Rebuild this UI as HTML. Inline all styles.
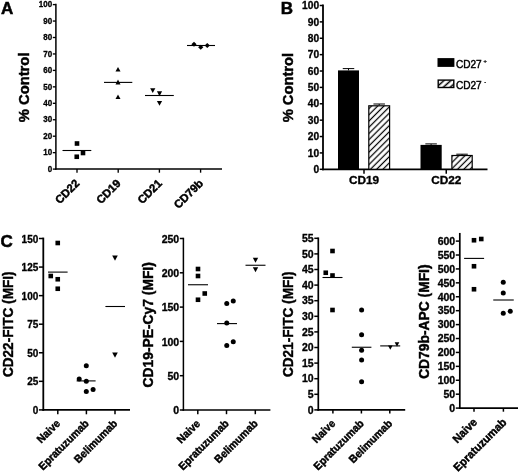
<!DOCTYPE html>
<html><head><meta charset="utf-8"><title>Figure</title>
<style>
html,body{margin:0;padding:0;background:#fff;}
svg{display:block;}
svg text{font-family:"Liberation Sans", Arial, sans-serif;fill:#000;}
</style></head>
<body>
<svg width="520" height="472" viewBox="0 0 520 472">
<rect width="520" height="472" fill="#fff"/>
<line x1="55.90" y1="3.85" x2="55.90" y2="169.85" stroke="#000" stroke-width="1.5"/>
<line x1="52.80" y1="169.10" x2="55.90" y2="169.10" stroke="#000" stroke-width="1.35"/>
<text x="0.00" y="0.00" font-size="8.8" font-weight="bold" text-anchor="end" stroke="#000" stroke-width="0.31" transform="translate(52.20 171.77) rotate(0) scale(0.91 1)">0</text>
<line x1="52.80" y1="152.65" x2="55.90" y2="152.65" stroke="#000" stroke-width="1.35"/>
<text x="0.00" y="0.00" font-size="8.8" font-weight="bold" text-anchor="end" stroke="#000" stroke-width="0.31" transform="translate(52.20 155.32) rotate(0) scale(0.91 1)">10</text>
<line x1="52.80" y1="136.20" x2="55.90" y2="136.20" stroke="#000" stroke-width="1.35"/>
<text x="0.00" y="0.00" font-size="8.8" font-weight="bold" text-anchor="end" stroke="#000" stroke-width="0.31" transform="translate(52.20 138.87) rotate(0) scale(0.91 1)">20</text>
<line x1="52.80" y1="119.75" x2="55.90" y2="119.75" stroke="#000" stroke-width="1.35"/>
<text x="0.00" y="0.00" font-size="8.8" font-weight="bold" text-anchor="end" stroke="#000" stroke-width="0.31" transform="translate(52.20 122.42) rotate(0) scale(0.91 1)">30</text>
<line x1="52.80" y1="103.30" x2="55.90" y2="103.30" stroke="#000" stroke-width="1.35"/>
<text x="0.00" y="0.00" font-size="8.8" font-weight="bold" text-anchor="end" stroke="#000" stroke-width="0.31" transform="translate(52.20 105.97) rotate(0) scale(0.91 1)">40</text>
<line x1="52.80" y1="86.85" x2="55.90" y2="86.85" stroke="#000" stroke-width="1.35"/>
<text x="0.00" y="0.00" font-size="8.8" font-weight="bold" text-anchor="end" stroke="#000" stroke-width="0.31" transform="translate(52.20 89.52) rotate(0) scale(0.91 1)">50</text>
<line x1="52.80" y1="70.40" x2="55.90" y2="70.40" stroke="#000" stroke-width="1.35"/>
<text x="0.00" y="0.00" font-size="8.8" font-weight="bold" text-anchor="end" stroke="#000" stroke-width="0.31" transform="translate(52.20 73.07) rotate(0) scale(0.91 1)">60</text>
<line x1="52.80" y1="53.95" x2="55.90" y2="53.95" stroke="#000" stroke-width="1.35"/>
<text x="0.00" y="0.00" font-size="8.8" font-weight="bold" text-anchor="end" stroke="#000" stroke-width="0.31" transform="translate(52.20 56.62) rotate(0) scale(0.91 1)">70</text>
<line x1="52.80" y1="37.50" x2="55.90" y2="37.50" stroke="#000" stroke-width="1.35"/>
<text x="0.00" y="0.00" font-size="8.8" font-weight="bold" text-anchor="end" stroke="#000" stroke-width="0.31" transform="translate(52.20 40.17) rotate(0) scale(0.91 1)">80</text>
<line x1="52.80" y1="21.05" x2="55.90" y2="21.05" stroke="#000" stroke-width="1.35"/>
<text x="0.00" y="0.00" font-size="8.8" font-weight="bold" text-anchor="end" stroke="#000" stroke-width="0.31" transform="translate(52.20 23.72) rotate(0) scale(0.91 1)">90</text>
<line x1="52.80" y1="4.60" x2="55.90" y2="4.60" stroke="#000" stroke-width="1.35"/>
<text x="0.00" y="0.00" font-size="8.8" font-weight="bold" text-anchor="end" stroke="#000" stroke-width="0.31" transform="translate(52.20 7.27) rotate(0) scale(0.91 1)">100</text>
<line x1="55.15" y1="169.10" x2="222.00" y2="169.10" stroke="#000" stroke-width="1.5"/>
<line x1="77.00" y1="169.10" x2="77.00" y2="172.70" stroke="#000" stroke-width="1.35"/>
<line x1="118.20" y1="169.10" x2="118.20" y2="172.70" stroke="#000" stroke-width="1.35"/>
<line x1="159.40" y1="169.10" x2="159.40" y2="172.70" stroke="#000" stroke-width="1.35"/>
<line x1="200.60" y1="169.10" x2="200.60" y2="172.70" stroke="#000" stroke-width="1.35"/>
<text x="0.90" y="14.10" font-size="17" font-weight="bold" text-anchor="start" stroke="#000" stroke-width="0.51">A</text>
<text x="29.20" y="87.40" font-size="15.2" font-weight="bold" text-anchor="middle" stroke="#000" stroke-width="0.46" transform="rotate(-90 29.20 87.40)" textLength="69.8" lengthAdjust="spacingAndGlyphs">% Control</text>
<text x="80.20" y="184.00" font-size="11.3" font-weight="bold" text-anchor="end" stroke="#000" stroke-width="0.45" transform="rotate(-45 80.20 184.00)">CD22</text>
<text x="121.40" y="184.00" font-size="11.3" font-weight="bold" text-anchor="end" stroke="#000" stroke-width="0.45" transform="rotate(-45 121.40 184.00)">CD19</text>
<text x="162.60" y="184.00" font-size="11.3" font-weight="bold" text-anchor="end" stroke="#000" stroke-width="0.45" transform="rotate(-45 162.60 184.00)">CD21</text>
<text x="203.80" y="184.00" font-size="11.3" font-weight="bold" text-anchor="end" stroke="#000" stroke-width="0.45" transform="rotate(-45 203.80 184.00)">CD79b</text>
<rect x="74.70" y="141.20" width="4.6" height="4.6" fill="#000"/>
<rect x="80.70" y="150.70" width="4.6" height="4.6" fill="#000"/>
<rect x="74.45" y="154.45" width="4.6" height="4.6" fill="#000"/>
<line x1="62.50" y1="150.50" x2="91.30" y2="150.50" stroke="#000" stroke-width="1.1"/>
<polygon points="115.50,71.62 120.50,71.62 118.00,66.88" fill="#000"/>
<polygon points="115.50,84.38 120.50,84.38 118.00,79.62" fill="#000"/>
<polygon points="115.50,99.12 120.50,99.12 118.00,94.38" fill="#000"/>
<line x1="104.00" y1="82.40" x2="132.30" y2="82.40" stroke="#000" stroke-width="1.1"/>
<polygon points="150.15,88.13 155.35,88.13 152.75,93.07" fill="#000"/>
<polygon points="156.90,91.33 162.10,91.33 159.50,96.27" fill="#000"/>
<polygon points="156.90,100.93 162.10,100.93 159.50,105.87" fill="#000"/>
<line x1="145.00" y1="95.50" x2="173.80" y2="95.50" stroke="#000" stroke-width="1.1"/>
<polygon points="191.40,44.25 194.00,41.65 196.60,44.25 194.00,46.85" fill="#000"/>
<polygon points="198.15,47.25 200.75,44.65 203.35,47.25 200.75,49.85" fill="#000"/>
<polygon points="204.65,45.50 207.25,42.90 209.85,45.50 207.25,48.10" fill="#000"/>
<line x1="187.00" y1="45.50" x2="215.00" y2="45.50" stroke="#000" stroke-width="1.1"/>
<line x1="323.00" y1="4.60" x2="323.00" y2="170.20" stroke="#000" stroke-width="1.8"/>
<line x1="319.70" y1="169.30" x2="323.00" y2="169.30" stroke="#000" stroke-width="1.5"/>
<text x="319.10" y="172.97" font-size="10.2" font-weight="bold" text-anchor="end" stroke="#000" stroke-width="0.31">0</text>
<line x1="319.70" y1="152.92" x2="323.00" y2="152.92" stroke="#000" stroke-width="1.5"/>
<text x="319.10" y="156.59" font-size="10.2" font-weight="bold" text-anchor="end" stroke="#000" stroke-width="0.31">10</text>
<line x1="319.70" y1="136.54" x2="323.00" y2="136.54" stroke="#000" stroke-width="1.5"/>
<text x="319.10" y="140.21" font-size="10.2" font-weight="bold" text-anchor="end" stroke="#000" stroke-width="0.31">20</text>
<line x1="319.70" y1="120.16" x2="323.00" y2="120.16" stroke="#000" stroke-width="1.5"/>
<text x="319.10" y="123.83" font-size="10.2" font-weight="bold" text-anchor="end" stroke="#000" stroke-width="0.31">30</text>
<line x1="319.70" y1="103.78" x2="323.00" y2="103.78" stroke="#000" stroke-width="1.5"/>
<text x="319.10" y="107.45" font-size="10.2" font-weight="bold" text-anchor="end" stroke="#000" stroke-width="0.31">40</text>
<line x1="319.70" y1="87.40" x2="323.00" y2="87.40" stroke="#000" stroke-width="1.5"/>
<text x="319.10" y="91.07" font-size="10.2" font-weight="bold" text-anchor="end" stroke="#000" stroke-width="0.31">50</text>
<line x1="319.70" y1="71.02" x2="323.00" y2="71.02" stroke="#000" stroke-width="1.5"/>
<text x="319.10" y="74.69" font-size="10.2" font-weight="bold" text-anchor="end" stroke="#000" stroke-width="0.31">60</text>
<line x1="319.70" y1="54.64" x2="323.00" y2="54.64" stroke="#000" stroke-width="1.5"/>
<text x="319.10" y="58.31" font-size="10.2" font-weight="bold" text-anchor="end" stroke="#000" stroke-width="0.31">70</text>
<line x1="319.70" y1="38.26" x2="323.00" y2="38.26" stroke="#000" stroke-width="1.5"/>
<text x="319.10" y="41.93" font-size="10.2" font-weight="bold" text-anchor="end" stroke="#000" stroke-width="0.31">80</text>
<line x1="319.70" y1="21.88" x2="323.00" y2="21.88" stroke="#000" stroke-width="1.5"/>
<text x="319.10" y="25.55" font-size="10.2" font-weight="bold" text-anchor="end" stroke="#000" stroke-width="0.31">90</text>
<line x1="319.70" y1="5.50" x2="323.00" y2="5.50" stroke="#000" stroke-width="1.5"/>
<text x="319.10" y="9.17" font-size="10.2" font-weight="bold" text-anchor="end" stroke="#000" stroke-width="0.31">100</text>
<line x1="322.10" y1="169.30" x2="487.50" y2="169.30" stroke="#000" stroke-width="1.8"/>
<line x1="364.00" y1="169.30" x2="364.00" y2="173.70" stroke="#000" stroke-width="1.5"/>
<line x1="446.25" y1="169.30" x2="446.25" y2="173.70" stroke="#000" stroke-width="1.5"/>
<text x="280.70" y="13.85" font-size="17" font-weight="bold" text-anchor="start" stroke="#000" stroke-width="0.51">B</text>
<text x="292.60" y="87.60" font-size="15.2" font-weight="bold" text-anchor="middle" stroke="#000" stroke-width="0.46" transform="rotate(-90 292.60 87.60)" textLength="69.4" lengthAdjust="spacingAndGlyphs">% Control</text>
<text x="364.00" y="183.90" font-size="11.8" font-weight="bold" text-anchor="middle" stroke="#000" stroke-width="0.35">CD19</text>
<text x="446.25" y="183.90" font-size="11.8" font-weight="bold" text-anchor="middle" stroke="#000" stroke-width="0.35">CD22</text>
<defs><pattern id="h" width="4.4" height="4.4" patternUnits="userSpaceOnUse" patternTransform="translate(1.5 0) rotate(-45)"><rect width="4.4" height="4.4" fill="#fff"/><line x1="0" y1="2.2" x2="4.4" y2="2.2" stroke="#000" stroke-width="1.25"/></pattern><pattern id="h2" width="4.6" height="4.6" patternUnits="userSpaceOnUse" patternTransform="translate(0.6 0) rotate(-42)"><rect width="4.6" height="4.6" fill="#fff"/><line x1="0" y1="2.3" x2="4.6" y2="2.3" stroke="#000" stroke-width="1.5"/></pattern></defs>
<line x1="348.50" y1="68.60" x2="348.50" y2="70.40" stroke="#000" stroke-width="1.0"/>
<line x1="342.75" y1="68.60" x2="354.25" y2="68.60" stroke="#000" stroke-width="1.0"/>
<rect x="338.00" y="70.40" width="21.00" height="98.90" fill="#000"/>
<line x1="379.20" y1="104.00" x2="379.20" y2="105.20" stroke="#000" stroke-width="1.0"/>
<line x1="373.45" y1="104.00" x2="384.95" y2="104.00" stroke="#000" stroke-width="1.0"/>
<rect x="368.80" y="105.80" width="20.80" height="63.50" fill="url(#h)" stroke="#000" stroke-width="1.2"/>
<line x1="431.10" y1="143.90" x2="431.10" y2="144.90" stroke="#000" stroke-width="1.0"/>
<line x1="425.35" y1="143.90" x2="436.85" y2="143.90" stroke="#000" stroke-width="1.0"/>
<rect x="420.50" y="144.90" width="21.20" height="24.40" fill="#000"/>
<line x1="462.05" y1="154.20" x2="462.05" y2="154.90" stroke="#000" stroke-width="1.0"/>
<line x1="456.30" y1="154.20" x2="467.80" y2="154.20" stroke="#000" stroke-width="1.0"/>
<rect x="451.90" y="155.50" width="20.30" height="13.80" fill="url(#h)" stroke="#000" stroke-width="1.2"/>
<rect x="437.5" y="58.1" width="16.9" height="8.8" fill="#000"/>
<rect x="438.2" y="80.1" width="15.6" height="7.4" fill="url(#h2)" stroke="#000" stroke-width="1.4"/>
<text x="455.90" y="67.50" font-size="10.1" font-weight="normal" text-anchor="start" stroke="#000" stroke-width="0.42" textLength="25.8" lengthAdjust="spacingAndGlyphs">CD27</text>
<text x="455.90" y="89.30" font-size="10.1" font-weight="normal" text-anchor="start" stroke="#000" stroke-width="0.42" textLength="25.8" lengthAdjust="spacingAndGlyphs">CD27</text>
<text x="483.50" y="62.80" font-size="5.6" font-weight="bold" text-anchor="start" stroke="#000" stroke-width="0.17">+</text>
<text x="484.30" y="84.20" font-size="5.6" font-weight="bold" text-anchor="start" stroke="#000" stroke-width="0.17">-</text>
<text x="0.40" y="246.90" font-size="17" font-weight="bold" text-anchor="start" stroke="#000" stroke-width="0.51">C</text>
<line x1="43.30" y1="237.60" x2="43.30" y2="410.80" stroke="#000" stroke-width="1.8"/>
<line x1="38.90" y1="409.90" x2="43.30" y2="409.90" stroke="#000" stroke-width="1.5"/>
<text x="38.30" y="414.00" font-size="10.0" font-weight="bold" text-anchor="end" stroke="#000" stroke-width="0.30">0</text>
<line x1="38.90" y1="381.33" x2="43.30" y2="381.33" stroke="#000" stroke-width="1.5"/>
<text x="38.30" y="385.43" font-size="10.0" font-weight="bold" text-anchor="end" stroke="#000" stroke-width="0.30">25</text>
<line x1="38.90" y1="352.77" x2="43.30" y2="352.77" stroke="#000" stroke-width="1.5"/>
<text x="38.30" y="356.87" font-size="10.0" font-weight="bold" text-anchor="end" stroke="#000" stroke-width="0.30">50</text>
<line x1="38.90" y1="324.20" x2="43.30" y2="324.20" stroke="#000" stroke-width="1.5"/>
<text x="38.30" y="328.30" font-size="10.0" font-weight="bold" text-anchor="end" stroke="#000" stroke-width="0.30">75</text>
<line x1="38.90" y1="295.63" x2="43.30" y2="295.63" stroke="#000" stroke-width="1.5"/>
<text x="38.30" y="299.73" font-size="10.0" font-weight="bold" text-anchor="end" stroke="#000" stroke-width="0.30">100</text>
<line x1="38.90" y1="267.07" x2="43.30" y2="267.07" stroke="#000" stroke-width="1.5"/>
<text x="38.30" y="271.17" font-size="10.0" font-weight="bold" text-anchor="end" stroke="#000" stroke-width="0.30">125</text>
<line x1="38.90" y1="238.50" x2="43.30" y2="238.50" stroke="#000" stroke-width="1.5"/>
<text x="38.30" y="242.60" font-size="10.0" font-weight="bold" text-anchor="end" stroke="#000" stroke-width="0.30">150</text>
<line x1="42.40" y1="409.90" x2="130.00" y2="409.90" stroke="#000" stroke-width="1.8"/>
<line x1="57.80" y1="409.90" x2="57.80" y2="414.30" stroke="#000" stroke-width="1.5"/>
<line x1="86.40" y1="409.90" x2="86.40" y2="414.30" stroke="#000" stroke-width="1.5"/>
<line x1="115.00" y1="409.90" x2="115.00" y2="414.30" stroke="#000" stroke-width="1.5"/>
<text x="12.80" y="324.25" font-size="13.9" font-weight="bold" text-anchor="middle" stroke="#000" stroke-width="0.42" transform="rotate(-90 12.80 324.25)" textLength="105.6" lengthAdjust="spacingAndGlyphs">CD22-FITC (MFI)</text>
<text x="0.00" y="0.00" font-size="11.0" font-weight="bold" text-anchor="end" stroke="#000" stroke-width="0.44" transform="translate(60.90 424.20) rotate(-45) scale(0.945 1)">Naive</text>
<text x="0.00" y="0.00" font-size="11.0" font-weight="bold" text-anchor="end" stroke="#000" stroke-width="0.44" transform="translate(89.50 424.20) rotate(-45) scale(0.945 1)">Epratuzumab</text>
<text x="0.00" y="0.00" font-size="11.0" font-weight="bold" text-anchor="end" stroke="#000" stroke-width="0.44" transform="translate(118.10 424.20) rotate(-45) scale(0.945 1)">Belimumab</text>
<rect x="55.45" y="240.70" width="4.6" height="4.6" fill="#000"/>
<rect x="48.45" y="273.70" width="4.6" height="4.6" fill="#000"/>
<rect x="55.45" y="276.95" width="4.6" height="4.6" fill="#000"/>
<rect x="55.45" y="286.45" width="4.6" height="4.6" fill="#000"/>
<line x1="48.00" y1="272.10" x2="67.60" y2="272.10" stroke="#000" stroke-width="1.1"/>
<circle cx="86.30" cy="365.70" r="2.5" fill="#000"/>
<circle cx="79.20" cy="379.00" r="2.5" fill="#000"/>
<circle cx="86.30" cy="381.20" r="2.5" fill="#000"/>
<circle cx="86.30" cy="391.50" r="2.5" fill="#000"/>
<circle cx="93.10" cy="389.60" r="2.5" fill="#000"/>
<line x1="76.60" y1="380.90" x2="95.60" y2="380.90" stroke="#000" stroke-width="1.1"/>
<polygon points="112.20,255.44 117.80,255.44 115.00,260.76" fill="#000"/>
<polygon points="112.20,352.44 117.80,352.44 115.00,357.76" fill="#000"/>
<line x1="105.40" y1="306.50" x2="125.00" y2="306.50" stroke="#000" stroke-width="1.1"/>
<line x1="183.40" y1="237.75" x2="183.40" y2="410.75" stroke="#000" stroke-width="1.5"/>
<line x1="179.80" y1="410.00" x2="183.40" y2="410.00" stroke="#000" stroke-width="1.5"/>
<text x="179.20" y="414.18" font-size="10.5" font-weight="bold" text-anchor="end" stroke="#000" stroke-width="0.32">0</text>
<line x1="179.80" y1="375.70" x2="183.40" y2="375.70" stroke="#000" stroke-width="1.5"/>
<text x="179.20" y="379.88" font-size="10.5" font-weight="bold" text-anchor="end" stroke="#000" stroke-width="0.32">50</text>
<line x1="179.80" y1="341.40" x2="183.40" y2="341.40" stroke="#000" stroke-width="1.5"/>
<text x="179.20" y="345.58" font-size="10.5" font-weight="bold" text-anchor="end" stroke="#000" stroke-width="0.32">100</text>
<line x1="179.80" y1="307.10" x2="183.40" y2="307.10" stroke="#000" stroke-width="1.5"/>
<text x="179.20" y="311.28" font-size="10.5" font-weight="bold" text-anchor="end" stroke="#000" stroke-width="0.32">150</text>
<line x1="179.80" y1="272.80" x2="183.40" y2="272.80" stroke="#000" stroke-width="1.5"/>
<text x="179.20" y="276.98" font-size="10.5" font-weight="bold" text-anchor="end" stroke="#000" stroke-width="0.32">200</text>
<line x1="179.80" y1="238.50" x2="183.40" y2="238.50" stroke="#000" stroke-width="1.5"/>
<text x="179.20" y="242.68" font-size="10.5" font-weight="bold" text-anchor="end" stroke="#000" stroke-width="0.32">250</text>
<line x1="182.65" y1="410.00" x2="270.40" y2="410.00" stroke="#000" stroke-width="1.5"/>
<line x1="197.80" y1="410.00" x2="197.80" y2="414.20" stroke="#000" stroke-width="1.5"/>
<line x1="226.50" y1="410.00" x2="226.50" y2="414.20" stroke="#000" stroke-width="1.5"/>
<line x1="255.30" y1="410.00" x2="255.30" y2="414.20" stroke="#000" stroke-width="1.5"/>
<text x="152.70" y="324.80" font-size="13.9" font-weight="bold" text-anchor="middle" stroke="#000" stroke-width="0.42" transform="rotate(-90 152.70 324.80)" textLength="125.2" lengthAdjust="spacingAndGlyphs">CD19-PE-Cy7 (MFI)</text>
<text x="0.00" y="0.00" font-size="11.0" font-weight="bold" text-anchor="end" stroke="#000" stroke-width="0.44" transform="translate(200.90 424.30) rotate(-45) scale(0.945 1)">Naive</text>
<text x="0.00" y="0.00" font-size="11.0" font-weight="bold" text-anchor="end" stroke="#000" stroke-width="0.44" transform="translate(229.60 424.30) rotate(-45) scale(0.945 1)">Epratuzumab</text>
<text x="0.00" y="0.00" font-size="11.0" font-weight="bold" text-anchor="end" stroke="#000" stroke-width="0.44" transform="translate(258.40 424.30) rotate(-45) scale(0.945 1)">Belimumab</text>
<rect x="195.70" y="266.70" width="4.6" height="4.6" fill="#000"/>
<rect x="195.70" y="273.70" width="4.6" height="4.6" fill="#000"/>
<rect x="202.45" y="291.20" width="4.6" height="4.6" fill="#000"/>
<rect x="195.70" y="297.45" width="4.6" height="4.6" fill="#000"/>
<line x1="188.00" y1="284.75" x2="208.00" y2="284.75" stroke="#000" stroke-width="1.1"/>
<circle cx="226.75" cy="303.60" r="2.5" fill="#000"/>
<circle cx="233.25" cy="301.10" r="2.5" fill="#000"/>
<circle cx="226.75" cy="322.90" r="2.5" fill="#000"/>
<circle cx="233.25" cy="341.80" r="2.5" fill="#000"/>
<circle cx="226.75" cy="345.60" r="2.5" fill="#000"/>
<line x1="217.00" y1="323.60" x2="237.00" y2="323.60" stroke="#000" stroke-width="1.1"/>
<polygon points="252.80,257.69 258.20,257.69 255.50,262.81" fill="#000"/>
<polygon points="252.80,267.19 258.20,267.19 255.50,272.31" fill="#000"/>
<line x1="245.50" y1="265.25" x2="265.50" y2="265.25" stroke="#000" stroke-width="1.1"/>
<line x1="318.30" y1="237.45" x2="318.30" y2="410.75" stroke="#000" stroke-width="1.7"/>
<line x1="314.30" y1="409.90" x2="318.30" y2="409.90" stroke="#000" stroke-width="1.5"/>
<text x="313.70" y="413.68" font-size="10.5" font-weight="bold" text-anchor="end" stroke="#000" stroke-width="0.32">0</text>
<line x1="314.30" y1="394.30" x2="318.30" y2="394.30" stroke="#000" stroke-width="1.5"/>
<text x="313.70" y="398.08" font-size="10.5" font-weight="bold" text-anchor="end" stroke="#000" stroke-width="0.32">5</text>
<line x1="314.30" y1="378.70" x2="318.30" y2="378.70" stroke="#000" stroke-width="1.5"/>
<text x="313.70" y="382.48" font-size="10.5" font-weight="bold" text-anchor="end" stroke="#000" stroke-width="0.32">10</text>
<line x1="314.30" y1="363.10" x2="318.30" y2="363.10" stroke="#000" stroke-width="1.5"/>
<text x="313.70" y="366.88" font-size="10.5" font-weight="bold" text-anchor="end" stroke="#000" stroke-width="0.32">15</text>
<line x1="314.30" y1="347.50" x2="318.30" y2="347.50" stroke="#000" stroke-width="1.5"/>
<text x="313.70" y="351.28" font-size="10.5" font-weight="bold" text-anchor="end" stroke="#000" stroke-width="0.32">20</text>
<line x1="314.30" y1="331.90" x2="318.30" y2="331.90" stroke="#000" stroke-width="1.5"/>
<text x="313.70" y="335.68" font-size="10.5" font-weight="bold" text-anchor="end" stroke="#000" stroke-width="0.32">25</text>
<line x1="314.30" y1="316.30" x2="318.30" y2="316.30" stroke="#000" stroke-width="1.5"/>
<text x="313.70" y="320.08" font-size="10.5" font-weight="bold" text-anchor="end" stroke="#000" stroke-width="0.32">30</text>
<line x1="314.30" y1="300.70" x2="318.30" y2="300.70" stroke="#000" stroke-width="1.5"/>
<text x="313.70" y="304.48" font-size="10.5" font-weight="bold" text-anchor="end" stroke="#000" stroke-width="0.32">35</text>
<line x1="314.30" y1="285.10" x2="318.30" y2="285.10" stroke="#000" stroke-width="1.5"/>
<text x="313.70" y="288.88" font-size="10.5" font-weight="bold" text-anchor="end" stroke="#000" stroke-width="0.32">40</text>
<line x1="314.30" y1="269.50" x2="318.30" y2="269.50" stroke="#000" stroke-width="1.5"/>
<text x="313.70" y="273.28" font-size="10.5" font-weight="bold" text-anchor="end" stroke="#000" stroke-width="0.32">45</text>
<line x1="314.30" y1="253.90" x2="318.30" y2="253.90" stroke="#000" stroke-width="1.5"/>
<text x="313.70" y="257.68" font-size="10.5" font-weight="bold" text-anchor="end" stroke="#000" stroke-width="0.32">50</text>
<line x1="314.30" y1="238.30" x2="318.30" y2="238.30" stroke="#000" stroke-width="1.5"/>
<text x="313.70" y="242.08" font-size="10.5" font-weight="bold" text-anchor="end" stroke="#000" stroke-width="0.32">55</text>
<line x1="317.45" y1="409.90" x2="405.20" y2="409.90" stroke="#000" stroke-width="1.7"/>
<line x1="332.90" y1="409.90" x2="332.90" y2="413.50" stroke="#000" stroke-width="1.5"/>
<line x1="361.40" y1="409.90" x2="361.40" y2="413.50" stroke="#000" stroke-width="1.5"/>
<line x1="389.80" y1="409.90" x2="389.80" y2="413.50" stroke="#000" stroke-width="1.5"/>
<text x="293.40" y="324.25" font-size="13.9" font-weight="bold" text-anchor="middle" stroke="#000" stroke-width="0.42" transform="rotate(-90 293.40 324.25)" textLength="105.6" lengthAdjust="spacingAndGlyphs">CD21-FITC (MFI)</text>
<text x="0.00" y="0.00" font-size="11.0" font-weight="bold" text-anchor="end" stroke="#000" stroke-width="0.44" transform="translate(336.00 424.20) rotate(-45) scale(0.945 1)">Naive</text>
<text x="0.00" y="0.00" font-size="11.0" font-weight="bold" text-anchor="end" stroke="#000" stroke-width="0.44" transform="translate(364.50 424.20) rotate(-45) scale(0.945 1)">Epratuzumab</text>
<text x="0.00" y="0.00" font-size="11.0" font-weight="bold" text-anchor="end" stroke="#000" stroke-width="0.44" transform="translate(392.90 424.20) rotate(-45) scale(0.945 1)">Belimumab</text>
<rect x="330.20" y="248.70" width="4.6" height="4.6" fill="#000"/>
<rect x="323.45" y="270.45" width="4.6" height="4.6" fill="#000"/>
<rect x="330.20" y="273.20" width="4.6" height="4.6" fill="#000"/>
<rect x="330.20" y="307.70" width="4.6" height="4.6" fill="#000"/>
<line x1="322.50" y1="277.50" x2="342.50" y2="277.50" stroke="#000" stroke-width="1.1"/>
<circle cx="361.60" cy="310.00" r="2.5" fill="#000"/>
<circle cx="361.60" cy="334.75" r="2.5" fill="#000"/>
<circle cx="361.60" cy="350.20" r="2.5" fill="#000"/>
<circle cx="361.60" cy="360.00" r="2.5" fill="#000"/>
<circle cx="361.60" cy="381.70" r="2.5" fill="#000"/>
<line x1="351.80" y1="347.25" x2="371.40" y2="347.25" stroke="#000" stroke-width="1.1"/>
<polygon points="388.00,345.42 392.60,345.42 390.30,349.79" fill="#000"/>
<polygon points="394.70,342.31 399.30,342.31 397.00,346.69" fill="#000"/>
<line x1="380.20" y1="345.90" x2="400.20" y2="345.90" stroke="#000" stroke-width="1.1"/>
<line x1="459.80" y1="232.95" x2="459.80" y2="408.95" stroke="#000" stroke-width="1.7"/>
<line x1="455.80" y1="408.10" x2="459.80" y2="408.10" stroke="#000" stroke-width="1.5"/>
<text x="455.20" y="411.88" font-size="10.5" font-weight="bold" text-anchor="end" stroke="#000" stroke-width="0.32">0</text>
<line x1="455.80" y1="394.18" x2="459.80" y2="394.18" stroke="#000" stroke-width="1.5"/>
<text x="455.20" y="397.96" font-size="10.5" font-weight="bold" text-anchor="end" stroke="#000" stroke-width="0.32">50</text>
<line x1="455.80" y1="380.27" x2="459.80" y2="380.27" stroke="#000" stroke-width="1.5"/>
<text x="455.20" y="384.05" font-size="10.5" font-weight="bold" text-anchor="end" stroke="#000" stroke-width="0.32">100</text>
<line x1="455.80" y1="366.35" x2="459.80" y2="366.35" stroke="#000" stroke-width="1.5"/>
<text x="455.20" y="370.13" font-size="10.5" font-weight="bold" text-anchor="end" stroke="#000" stroke-width="0.32">150</text>
<line x1="455.80" y1="352.43" x2="459.80" y2="352.43" stroke="#000" stroke-width="1.5"/>
<text x="455.20" y="356.21" font-size="10.5" font-weight="bold" text-anchor="end" stroke="#000" stroke-width="0.32">200</text>
<line x1="455.80" y1="338.52" x2="459.80" y2="338.52" stroke="#000" stroke-width="1.5"/>
<text x="455.20" y="342.30" font-size="10.5" font-weight="bold" text-anchor="end" stroke="#000" stroke-width="0.32">250</text>
<line x1="455.80" y1="324.60" x2="459.80" y2="324.60" stroke="#000" stroke-width="1.5"/>
<text x="455.20" y="328.38" font-size="10.5" font-weight="bold" text-anchor="end" stroke="#000" stroke-width="0.32">300</text>
<line x1="455.80" y1="310.68" x2="459.80" y2="310.68" stroke="#000" stroke-width="1.5"/>
<text x="455.20" y="314.46" font-size="10.5" font-weight="bold" text-anchor="end" stroke="#000" stroke-width="0.32">350</text>
<line x1="455.80" y1="296.77" x2="459.80" y2="296.77" stroke="#000" stroke-width="1.5"/>
<text x="455.20" y="300.55" font-size="10.5" font-weight="bold" text-anchor="end" stroke="#000" stroke-width="0.32">400</text>
<line x1="455.80" y1="282.85" x2="459.80" y2="282.85" stroke="#000" stroke-width="1.5"/>
<text x="455.20" y="286.63" font-size="10.5" font-weight="bold" text-anchor="end" stroke="#000" stroke-width="0.32">450</text>
<line x1="455.80" y1="268.93" x2="459.80" y2="268.93" stroke="#000" stroke-width="1.5"/>
<text x="455.20" y="272.71" font-size="10.5" font-weight="bold" text-anchor="end" stroke="#000" stroke-width="0.32">500</text>
<line x1="455.80" y1="255.02" x2="459.80" y2="255.02" stroke="#000" stroke-width="1.5"/>
<text x="455.20" y="258.80" font-size="10.5" font-weight="bold" text-anchor="end" stroke="#000" stroke-width="0.32">550</text>
<line x1="455.80" y1="241.10" x2="459.80" y2="241.10" stroke="#000" stroke-width="1.5"/>
<text x="455.20" y="244.88" font-size="10.5" font-weight="bold" text-anchor="end" stroke="#000" stroke-width="0.32">600</text>
<line x1="458.95" y1="408.10" x2="518.00" y2="408.10" stroke="#000" stroke-width="1.7"/>
<line x1="474.00" y1="408.10" x2="474.00" y2="411.70" stroke="#000" stroke-width="1.5"/>
<line x1="503.40" y1="408.10" x2="503.40" y2="411.70" stroke="#000" stroke-width="1.5"/>
<text x="428.90" y="321.65" font-size="13.9" font-weight="bold" text-anchor="middle" stroke="#000" stroke-width="0.42" transform="rotate(-90 428.90 321.65)" textLength="114.4" lengthAdjust="spacingAndGlyphs">CD79b-APC (MFI)</text>
<text x="0.00" y="0.00" font-size="11.4" font-weight="bold" text-anchor="end" stroke="#000" stroke-width="0.46" transform="translate(477.90 422.90) rotate(-45) scale(0.965 1)">Naive</text>
<text x="0.00" y="0.00" font-size="11.4" font-weight="bold" text-anchor="end" stroke="#000" stroke-width="0.46" transform="translate(507.30 422.90) rotate(-45) scale(0.965 1)">Epratuzumab</text>
<rect x="471.70" y="237.95" width="4.6" height="4.6" fill="#000"/>
<rect x="478.95" y="236.70" width="4.6" height="4.6" fill="#000"/>
<rect x="471.70" y="263.95" width="4.6" height="4.6" fill="#000"/>
<rect x="471.70" y="286.95" width="4.6" height="4.6" fill="#000"/>
<line x1="464.10" y1="258.40" x2="484.10" y2="258.40" stroke="#000" stroke-width="1.1"/>
<circle cx="503.25" cy="282.25" r="2.5" fill="#000"/>
<circle cx="503.25" cy="293.00" r="2.5" fill="#000"/>
<circle cx="503.25" cy="313.25" r="2.5" fill="#000"/>
<circle cx="510.25" cy="311.25" r="2.5" fill="#000"/>
<line x1="493.25" y1="300.00" x2="513.75" y2="300.00" stroke="#000" stroke-width="1.1"/>
</svg>
</body></html>
